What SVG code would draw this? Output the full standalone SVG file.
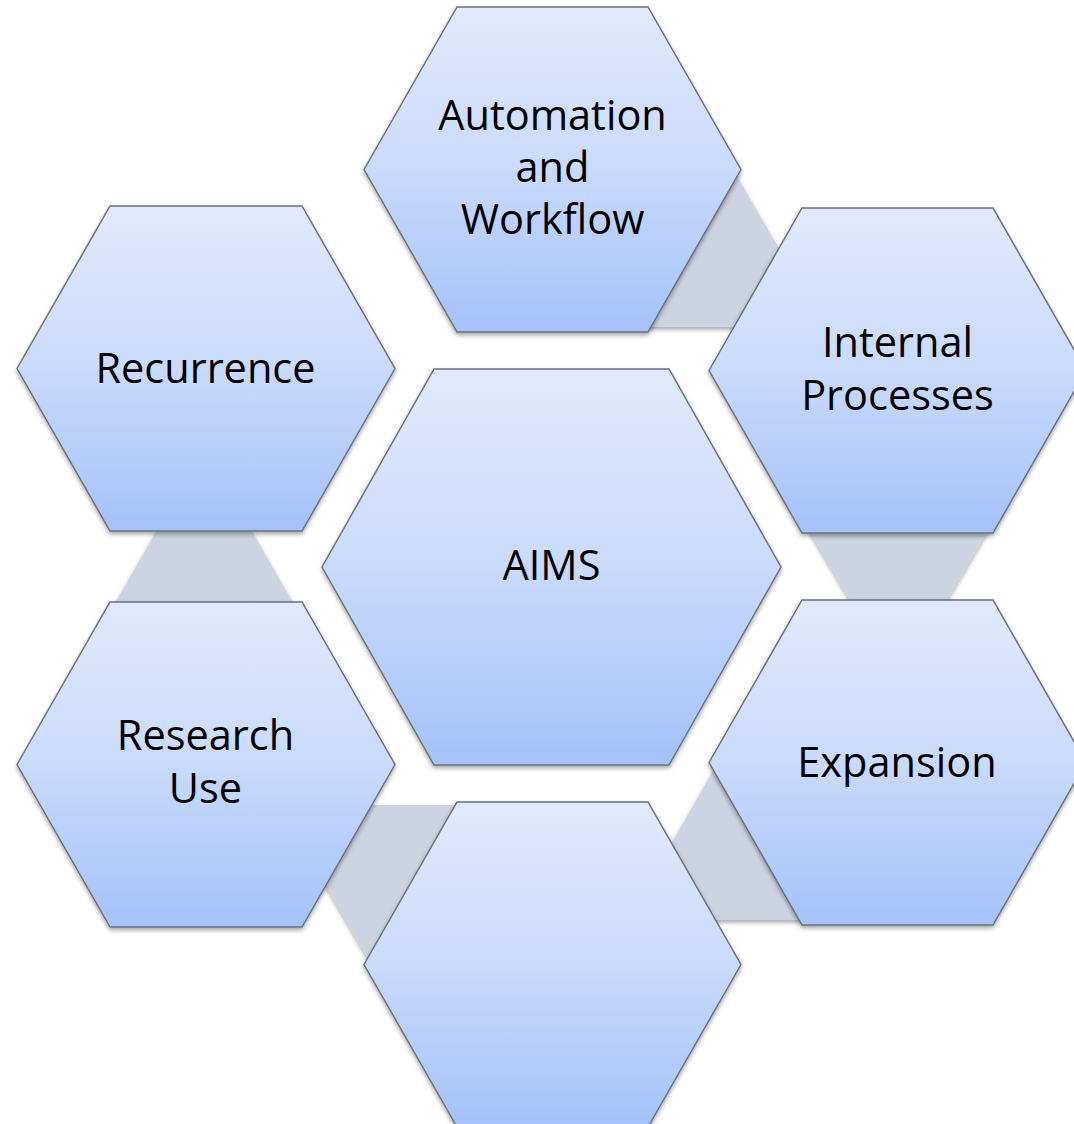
<svg xmlns="http://www.w3.org/2000/svg" width="1074" height="1124" viewBox="0 0 1074 1124">
  <defs>
    <linearGradient id="hexFill" x1="0" y1="0" x2="0" y2="1">
      <stop offset="0" stop-color="#e1eafc"/>
      <stop offset="0.5" stop-color="#c9dafb"/>
      <stop offset="1" stop-color="#a4c2f9"/>
    </linearGradient>
    <filter id="shadow" x="-10%" y="-10%" width="120%" height="125%">
      <feDropShadow dx="0" dy="2.5" stdDeviation="2" flood-color="#000" flood-opacity="0.35"/>
    </filter>
  </defs>
  <style>
    .hex { fill: url(#hexFill); stroke: #6a717d; stroke-width: 1.5; stroke-linejoin: miter; filter: url(#shadow); }
    .conn { fill: #cdd4e1; stroke: none; filter: url(#shadow); }
    .lbl { font-family: "Open Sans", "Liberation Sans", sans-serif; font-size: 41.5px; fill: #000; text-anchor: middle; }
  </style>
  <rect width="1074" height="1124" fill="#ffffff"/>

  <g id="connectors">
    <polygon class="conn" points="730.6,165 782.8,255 770,327 640,327"/>
    <polygon class="conn" points="806,525 991,525 941,610 856,610"/>
    <polygon class="conn" points="725,750 660,863 700,920 820,920 820,750"/>
    <polygon class="conn" points="279.7,805 480,805 480,960 371.7,965"/>
    <polygon class="conn" points="162.7,520 245.6,520 298.6,612 109.7,612"/>
  </g>

  <g id="node-automation">
    <polygon class="hex" points="364,169.5 457,7 648,7 741,169.5 648,332 457,332"/>
    <text class="lbl" x="552.5" y="130">Automation</text>
    <text class="lbl" x="552.5" y="182">and</text>
    <text class="lbl" x="552.5" y="234">Workflow</text>
  </g>

  <g id="node-internal">
    <polygon class="hex" points="709,370.5 802,208 993,208 1086,370.5 993,533 802,533"/>
    <text class="lbl" x="897.5" y="357">Internal</text>
    <text class="lbl" x="897.5" y="410">Processes</text>
  </g>

  <g id="node-expansion">
    <polygon class="hex" points="709,762.5 802,600 993,600 1086,762.5 993,925 802,925"/>
    <text class="lbl" x="897" y="777">Expansion</text>
  </g>

  <g id="node-bottom">
    <polygon class="hex" points="364,964.5 457,802 648,802 741,964.5 648,1127 457,1127"/>
  </g>

  <g id="node-research">
    <polygon class="hex" points="17,764.5 110,602 302,602 395,764.5 302,927 110,927"/>
    <text class="lbl" x="205.5" y="750">Research</text>
    <text class="lbl" x="205.5" y="803">Use</text>
  </g>

  <g id="node-recurrence">
    <polygon class="hex" points="17,368.5 110,206 302,206 395,368.5 302,531 110,531"/>
    <text class="lbl" x="205.5" y="383">Recurrence</text>
  </g>

  <g id="node-aims">
    <polygon class="hex" points="322,567 434,369 669,369 781,567 669,765 434,765"/>
    <text class="lbl" x="551.5" y="580">AIMS</text>
  </g>
</svg>
